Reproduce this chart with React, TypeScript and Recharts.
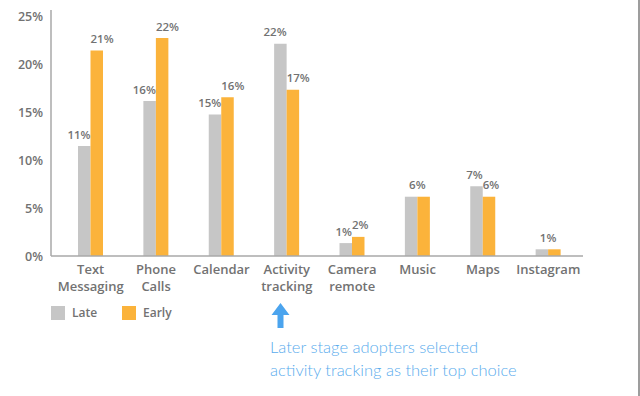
import React from "react";
import { BarChart, Bar, XAxis, YAxis, LabelList, Legend } from "recharts";

const categories = ["Text\nMessaging", "Phone\nCalls", "Calendar", "Activity\ntracking", "Camera\nremote", "Music", "Maps", "Instagram"];
const lateValues = [11.5, 16.2, 14.8, 22.2, 1.35, 6.2, 7.3, 0.7];
const earlyValues = [21.5, 22.8, 16.6, 17.4, 2.0, 6.2, 6.2, 0.7];
const lateLabels = ["11%", "16%", "15%", "22%", "1%", "", "7%", ""];
const earlyLabels = ["21%", "22%", "16%", "17%", "2%", "", "6%", ""];
const sharedLabels = ["", "", "", "", "", "6%", "", "1%"];
const yTicks = [0, 5, 10, 15, 20, 25];
const seriesNames = ["Late", "Early"];
const noteLines = ["Later stage adopters selected", "activity tracking as their top choice"];

const data = categories.map((c, i) => ({
  category: c,
  late: lateValues[i],
  early: earlyValues[i],
}));

const FONT = "'Open Sans', sans-serif";
const GRAY = "#c6c6c6";
const ORANGE = "#fbb33b";
const TEXT = "#727272";
const BLUE = "#5aaced";

const XTick = (props: any) => {
  const { x, y, payload } = props;
  const lines = String(payload.value).split("\n");
  return (
    <text x={x} y={y} textAnchor="middle" fontFamily={FONT} fontSize={13} fontWeight={600} fill={TEXT}>
      {lines.map((l, i) => (
        <tspan key={i} x={x} dy={i === 0 ? 18 : 17}>{l}</tspan>
      ))}
    </text>
  );
};

const YTick = (props: any) => {
  const { x, y, payload } = props;
  return (
    <text x={x} y={y} dy={4.5} textAnchor="end" fontFamily={FONT} fontSize={12.5} fontWeight={600} fill={TEXT}>
      {payload.value}%
    </text>
  );
};

const LateLabel = (props: any) => {
  const { x, y, width, index } = props;
  const t = lateLabels[index];
  if (!t) return null;
  return (
    <text x={x + width} y={y - 7.5} textAnchor="end" fontFamily={FONT} fontSize={11.5} fontWeight={600} fill={TEXT}>
      {t}
    </text>
  );
};

const EarlyLabel = (props: any) => {
  const { x, y, index } = props;
  const s = sharedLabels[index];
  if (s) {
    return (
      <text x={x} y={y - 7.5} textAnchor="middle" fontFamily={FONT} fontSize={11.5} fontWeight={600} fill={TEXT}>
        {s}
      </text>
    );
  }
  const t = earlyLabels[index];
  if (!t) return null;
  return (
    <text x={x} y={y - 7.5} textAnchor="start" fontFamily={FONT} fontSize={11.5} fontWeight={600} fill={TEXT}>
      {t}
    </text>
  );
};

const renderLegend = (props: any) => {
  const payload = [...(props.payload || [])].sort(
    (a: any, b: any) => seriesNames.indexOf(a.value) - seriesNames.indexOf(b.value)
  );
  return (
    <div style={{ display: "flex", fontFamily: FONT, fontSize: 12, fontWeight: 600, color: TEXT }}>
      {payload.map((p: any, i: number) => (
        <div key={i} style={{ display: "flex", alignItems: "center", width: 71 }}>
          <div style={{ width: 14, height: 14, background: p.color, marginRight: 7 }} />
          <span>{p.value}</span>
        </div>
      ))}
    </div>
  );
};

export default function App() {
  return (
    <div style={{ position: "absolute", left: 0, top: 0, width: 640, height: 396, background: "#fff" }}>
      <BarChart
        width={640}
        height={396}
        data={data}
        margin={{ top: 10, right: 57, bottom: 100, left: 0 }}
        barGap={0}
        barSize={12.5}
      >
        <XAxis
          dataKey="category"
          interval={0}
          height={40}
          tickLine={false}
          tickSize={0}
          tickMargin={0}
          padding={{ left: 7, right: 2 }}
          axisLine={{ stroke: "#a9a9a9", strokeWidth: 1.5 }}
          tick={<XTick />}
        />
        <YAxis
          width={51}
          domain={[0, 25.73]}
          ticks={yTicks}
          tickLine={false}
          tickSize={0}
          tickMargin={8}
          axisLine={{ stroke: "#a9a9a9", strokeWidth: 1.5 }}
          tick={<YTick />}
        />
        <Legend
          layout="horizontal"
          verticalAlign="middle"
          align="center"
          content={renderLegend}
          wrapperStyle={{ top: 304, left: 51, width: 200 }}
        />
        <Bar dataKey="late" name={seriesNames[0]} fill={GRAY} isAnimationActive={false}>
          <LabelList dataKey="late" content={<LateLabel />} />
        </Bar>
        <Bar dataKey="early" name={seriesNames[1]} fill={ORANGE} isAnimationActive={false}>
          <LabelList dataKey="early" content={<EarlyLabel />} />
        </Bar>
      </BarChart>
      <svg style={{ position: "absolute", left: 270, top: 302 }} width={22} height={28}>
        <polygon points="10.5,1 19.5,13 13.5,13 13.5,26 7.5,26 7.5,13 1.5,13" fill="#4ba4ee" />
      </svg>
      <div
        style={{
          position: "absolute",
          left: 270,
          top: 336,
          fontFamily: "Lato, sans-serif",
          fontWeight: 300,
          fontSize: 16.5,
          lineHeight: "23px",
          color: BLUE,
          whiteSpace: "nowrap",
        }}
      >
        {noteLines.map((l, i) => (
          <div key={i}>{l}</div>
        ))}
      </div>
      <div style={{ position: "absolute", left: 638, top: 0, width: 2, height: 396, background: "#9d9d9d" }} />
    </div>
  );
}
